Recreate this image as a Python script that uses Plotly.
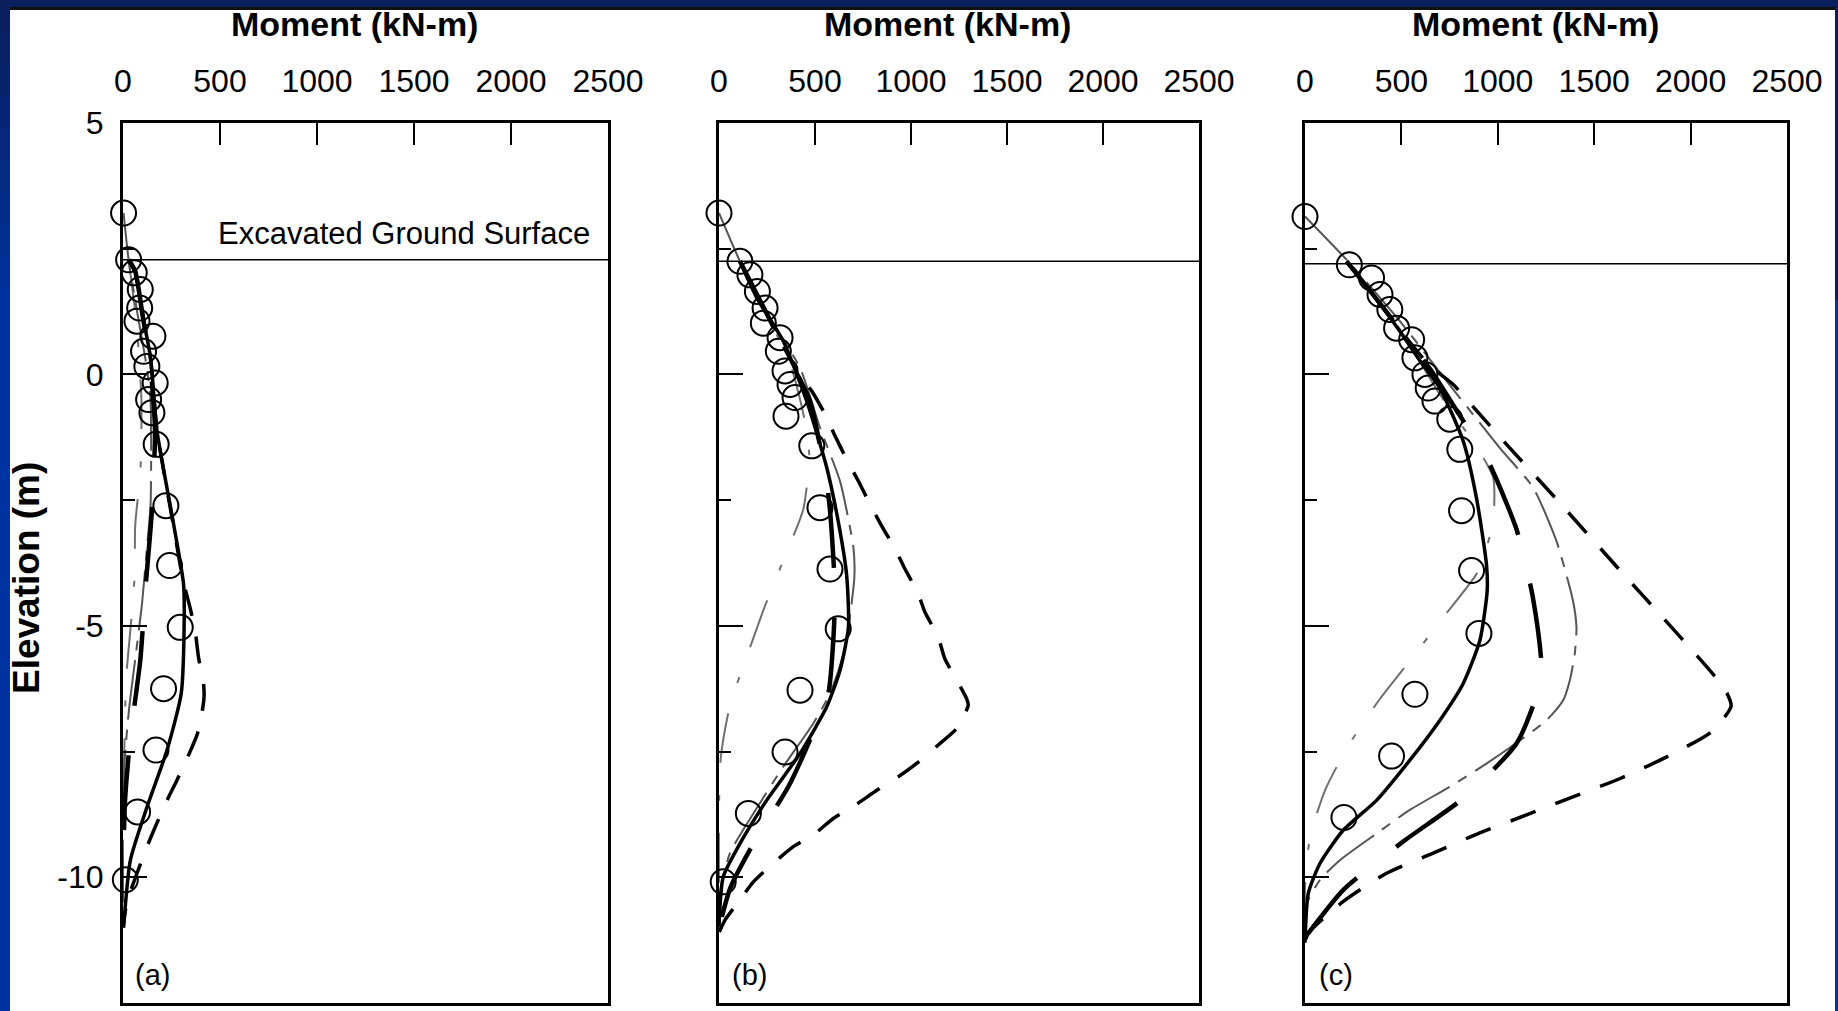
import plotly.graph_objects as go

# ---------------- data (moment kN-m, elevation m) ----------------
PANEL_LABELS = ["(a)", "(b)", "(c)"]
X_TICKS = [0, 500, 1000, 1500, 2000, 2500]
Y_TICKS = [5, 0, -5, -10]
GROUND_ELEV = [2.28, 2.25, 2.2]

# measured (open circles)
A_MEAS_M = [3, 29, 58, 89, 86, 72, 154, 106, 123, 166, 132, 149, 171, 221, 240, 295, 209, 170, 75, 12]
A_MEAS_E = [3.21, 2.28, 2.02, 1.69, 1.32, 1.06, 0.76, 0.46, 0.16, -0.17, -0.50, -0.76, -1.39, -2.61, -3.80, -5.03, -6.25, -7.47, -8.70, -10.05]
B_MEAS_M = [0, 109, 161, 200, 240, 231, 318, 309, 344, 370, 396, 349, 483, 526, 578, 621, 422, 344, 153, 22]
B_MEAS_E = [3.21, 2.25, 1.98, 1.65, 1.32, 1.02, 0.73, 0.46, 0.07, -0.2, -0.46, -0.83, -1.42, -2.65, -3.87, -5.06, -6.28, -7.51, -8.73, -10.09]
C_MEAS_M = [0, 230, 345, 389, 440, 475, 553, 570, 622, 639, 674, 751, 803, 812, 864, 902, 570, 449, 202, -45]
C_MEAS_E = [3.14, 2.18, 1.92, 1.59, 1.29, 0.92, 0.69, 0.33, 0.0, -0.27, -0.53, -0.89, -1.49, -2.71, -3.90, -5.15, -6.36, -7.59, -8.81, -10.1]

# solid thick black
A_SOL_M = [29, 63, 100, 142, 175, 261, 312, 315, 300, 227, 124, 38, 3]
A_SOL_E = [2.28, 2.05, 1.2, 0.33, -1.12, -2.98, -4.17, -5.03, -6.35, -7.47, -8.6, -9.66, -11.0]
B_SOL_M = [109, 200, 335, 457, 561, 630, 665, 674, 630, 561, 422, 248, 109, 22, 0]
B_SOL_E = [2.25, 1.5, 0.66, -0.53, -1.85, -3.11, -4.0, -5.03, -5.89, -6.61, -7.54, -8.47, -9.33, -9.99, -10.98]
C_SOL_M = [216, 350, 492, 600, 699, 820, 889, 941, 945, 907, 820, 699, 544, 371, 199, 78, 17, 0]
C_SOL_E = [2.25, 1.6, 0.86, 0.25, -0.27, -1.32, -2.45, -3.77, -4.3, -5.29, -6.15, -6.88, -7.67, -8.47, -9.06, -9.72, -10.32, -11.3]

# thick long-dash black
A_LD_M = [29, 63, 100, 140, 165, 149, 115, 89, 38, 10, 0]
A_LD_E = [2.28, 2.05, 1.2, 0.2, -1.1, -2.71, -4.3, -5.69, -7.21, -8.5, -10.0]
B_LD_M = [109, 250, 380, 474, 569, 604, 595, 569, 470, 361, 179, 60, 0]
B_LD_E = [2.25, 1.2, 0.2, -0.53, -2.38, -4.33, -5.3, -6.35, -7.3, -8.2, -9.33, -10.2, -11.0]
C_LD_M = [216, 350, 492, 650, 800, 941, 1097, 1183, 1226, 1097, 820, 509, 199, 0]
C_LD_E = [2.25, 1.6, 0.9, 0.1, -0.8, -1.65, -3.08, -4.46, -6.02, -7.34, -8.43, -9.29, -10.25, -11.2]

# short-dash black
A_SD_M = [29, 63, 100, 142, 175, 255, 310, 347, 373, 389, 415, 418, 412, 384, 338, 278, 227, 166, 124, 72, 20, 0]
A_SD_E = [2.28, 2.05, 1.2, 0.3, -1.1, -2.9, -4.1, -4.66, -5.13, -5.62, -6.15, -6.4, -6.61, -7.14, -7.57, -8.07, -8.47, -9.0, -9.39, -9.92, -10.5, -11.0]
B_SD_M = [109, 250, 400, 483, 552, 604, 665, 726, 786, 847, 917, 969, 1038, 1073, 1142, 1177, 1246, 1290, 1298, 1238, 1142, 1038, 934, 822, 708, 595, 500, 387, 283, 179, 109, 31, 0]
B_SD_E = [2.25, 1.2, 0.1, -0.33, -0.79, -1.22, -1.69, -2.12, -2.58, -3.01, -3.47, -3.87, -4.37, -4.73, -5.23, -5.66, -6.13, -6.45, -6.58, -7.04, -7.37, -7.71, -8.0, -8.27, -8.57, -8.83, -9.13, -9.39, -9.72, -10.09, -10.45, -10.85, -11.1]
C_SD_M = [216, 350, 500, 640, 769, 876, 1045, 1304, 1658, 1831, 2176, 2210, 2107, 1874, 1632, 1390, 1149, 898, 665, 423, 199, 17, 0]
C_SD_E = [2.25, 1.6, 0.85, 0.2, -0.2, -0.66, -1.39, -2.48, -4.0, -4.73, -6.25, -6.6, -7.11, -7.61, -8.04, -8.40, -8.76, -9.13, -9.52, -9.92, -10.48, -11.11, -11.3]

# thin grey long-dash-dot (from wall top)
A_GR_M = [3, 29, 75, 120, 142, 145, 142, 120, 97, 65, 30, 10, 0, 0]
A_GR_E = [3.21, 2.28, 1.2, 0.2, -0.5, -1.5, -2.6, -3.6, -4.6, -5.6, -6.7, -7.6, -8.6, -10.5]
B_GR_M = [0, 109, 250, 422, 526, 630, 700, 705, 674, 648, 578, 491, 335, 179, 57, 5, 0]
B_GR_E = [3.21, 2.25, 1.2, 0.13, -1.06, -2.12, -3.44, -4.03, -5.03, -5.56, -6.35, -6.94, -7.80, -8.73, -9.52, -10.3, -11.0]
C_GR_M = [0, 233, 492, 734, 1010, 1183, 1304, 1390, 1408, 1399, 1373, 1339, 1252, 1114, 941, 751, 544, 371, 181, 78, 9, 0]
C_GR_E = [3.14, 2.21, 1.06, -0.13, -1.46, -2.25, -3.31, -4.50, -5.03, -5.56, -6.09, -6.48, -6.88, -7.28, -7.74, -8.20, -8.66, -9.13, -9.66, -10.05, -10.52, -11.0]

# light grey dash-dot
A_DD_M = [29, 70, 95, 90, 63, 60, 40, 15, 10, 0, 0]
A_DD_E = [2.28, 1.0, -0.5, -1.9, -3.0, -4.0, -5.0, -6.1, -7.0, -8.5, -10.5]
B_DD_M = [109, 250, 380, 440, 470, 439, 344, 240, 144, 57, 10, 0, 0]
B_DD_E = [2.25, 1.2, 0.1, -0.8, -1.6, -2.68, -3.61, -4.6, -5.62, -6.58, -7.6, -8.6, -10.5]
C_DD_M = [216, 350, 492, 700, 900, 976, 976, 900, 717, 553, 389, 225, 104, 26, 0, 0]
C_DD_E = [2.25, 1.6, 0.9, -0.4, -1.5, -2.05, -2.91, -3.9, -4.83, -5.65, -6.45, -7.38, -8.27, -9.2, -10.2, -11.0]

PANELS = [
    dict(meas=(A_MEAS_M, A_MEAS_E), sol=(A_SOL_M, A_SOL_E), ld=(A_LD_M, A_LD_E),
         sd=(A_SD_M, A_SD_E), gr=(A_GR_M, A_GR_E), dd=(A_DD_M, A_DD_E)),
    dict(meas=(B_MEAS_M, B_MEAS_E), sol=(B_SOL_M, B_SOL_E), ld=(B_LD_M, B_LD_E),
         sd=(B_SD_M, B_SD_E), gr=(B_GR_M, B_GR_E), dd=(B_DD_M, B_DD_E)),
    dict(meas=(C_MEAS_M, C_MEAS_E), sol=(C_SOL_M, C_SOL_E), ld=(C_LD_M, C_LD_E),
         sd=(C_SD_M, C_SD_E), gr=(C_GR_M, C_GR_E), dd=(C_DD_M, C_DD_E)),
]

# ---------------- layout geometry (pixels of a 1838x1011 page) ----------------
W, H = 1838, 1011
PX_X = [(123, 608), (719, 1199), (1305, 1787)]
PX_TOP, PX_BOT = 123, 1003
FONT = "Liberation Sans, Arial, sans-serif"

def px(x):
    return x / W

def py(y):
    return 1 - y / H

LINE_STYLES = {
    "dd": dict(color="#707070", width=2, dash="50px,32px,6px,32px"),
    "gr": dict(color="#555555", width=2, dash="60px,10px,10px,10px"),
    "ld": dict(color="black", width=4.5, dash="75px,50px"),
    "sd": dict(color="black", width=3.5, dash="27px,21px"),
    "sol": dict(color="black", width=3.5),
}

fig = go.Figure()

for i, p in enumerate(PANELS):
    n = "" if i == 0 else str(i + 1)
    xa, ya = "x" + n, "y" + n
    fig.add_trace(go.Scatter(x=[X_TICKS[0], X_TICKS[-1]], y=[GROUND_ELEV[i]] * 2,
                             mode="lines", line=dict(color="black", width=1.5),
                             xaxis=xa, yaxis=ya, showlegend=False, hoverinfo="skip"))
    for key in ["dd", "gr", "ld", "sd", "sol"]:
        m, e = p[key]
        fig.add_trace(go.Scatter(x=m, y=e, mode="lines",
                                 line=dict(shape="spline", smoothing=0.6, **LINE_STYLES[key]),
                                 xaxis=xa, yaxis=ya, showlegend=False))
    m, e = p["meas"]
    fig.add_trace(go.Scatter(x=m, y=e, mode="markers", cliponaxis=False,
                             marker=dict(symbol="circle-open", size=25, color="black",
                                         line=dict(width=2, color="black")),
                             xaxis=xa, yaxis=ya, showlegend=False))

layout = dict(
    width=W, height=H,
    autosize=False,
    margin=dict(l=0, r=0, t=0, b=0, pad=0, autoexpand=False),
    paper_bgcolor="#0b1f5e",
    plot_bgcolor="rgba(0,0,0,0)",
    showlegend=False,
)

for i in range(3):
    n = "" if i == 0 else str(i + 1)
    x0, x1 = PX_X[i]
    layout["xaxis" + n] = dict(
        domain=[px(x0), px(x1)], range=[X_TICKS[0], X_TICKS[-1]], side="top",
        anchor="y" + n, tickvals=X_TICKS, ticktext=[str(v) for v in X_TICKS],
        ticks="inside", ticklen=22, tickwidth=2, tickcolor="black",
        showline=True, linewidth=3, linecolor="black", mirror=True,
        showgrid=False, zeroline=False, ticklabelstandoff=15, automargin=False,
        tickfont=dict(family=FONT, size=32, color="black"),
    )
    layout["yaxis" + n] = dict(
        domain=[py(PX_BOT), py(PX_TOP)], range=[-12.5, 5], anchor="x" + n,
        tickvals=Y_TICKS, ticktext=[str(v) for v in Y_TICKS],
        ticks="inside", ticklen=24, tickwidth=2, tickcolor="black",
        minor=dict(dtick=2.5, tick0=0, ticks="inside", ticklen=12, tickwidth=2, tickcolor="black"),
        showticklabels=(i == 0), ticklabelstandoff=10, automargin=False,
        showline=True, linewidth=3, linecolor="black", mirror=True,
        showgrid=False, zeroline=False,
        tickfont=dict(family=FONT, size=32, color="black"),
    )

# background: blue frame with gradient on the left strip, white page
shapes = []
steps = 10
c_top = (11, 31, 94)
c_bot = (0, 51, 160)
grad_end = 320
for k in range(steps):
    t = k / (steps - 1)
    col = tuple(int(c_top[j] + (c_bot[j] - c_top[j]) * t) for j in range(3))
    shapes.append(dict(type="rect", xref="paper", yref="paper", layer="below",
                       x0=0, x1=px(10), y0=py(grad_end * (k + 1) / steps), y1=py(grad_end * k / steps),
                       fillcolor="rgb(%d,%d,%d)" % col, line=dict(width=0)))
shapes.append(dict(type="rect", xref="paper", yref="paper", layer="below",
                   x0=0, x1=px(10), y0=0, y1=py(grad_end),
                   fillcolor="rgb(%d,%d,%d)" % c_bot, line=dict(width=0)))
shapes.append(dict(type="rect", xref="paper", yref="paper", layer="below",
                   x0=px(1835), x1=1, y0=0, y1=py(300),
                   fillcolor="rgb(%d,%d,%d)" % c_bot, line=dict(width=0)))
shapes.append(dict(type="rect", xref="paper", yref="paper", layer="below",
                   x0=px(10), x1=px(1835), y0=py(10), y1=py(7),
                   fillcolor="#111111", line=dict(width=0)))
shapes.append(dict(type="rect", xref="paper", yref="paper", layer="below",
                   x0=px(10), x1=px(1835), y0=0, y1=py(10),
                   fillcolor="white", line=dict(width=0)))
layout["shapes"] = shapes

ann = []
title_cx = [354, 948, 1535]
label_cx = [152, 749, 1336]
for i in range(3):
    ann.append(dict(text="<b>Moment (kN-m)</b>", x=px(title_cx[i]), y=py(24), xref="paper", yref="paper",
                    showarrow=False, xanchor="center", yanchor="middle",
                    font=dict(family=FONT, size=34, color="black")))
    ann.append(dict(text=PANEL_LABELS[i], x=px(label_cx[i]), y=py(975), xref="paper", yref="paper",
                    showarrow=False, xanchor="center", yanchor="middle",
                    font=dict(family=FONT, size=29, color="black")))
ann.append(dict(text="Excavated Ground Surface", x=px(404), y=py(233), xref="paper", yref="paper",
                showarrow=False, xanchor="center", yanchor="middle",
                font=dict(family=FONT, size=31, color="black")))
ann.append(dict(text="<b>Elevation (m)</b>", x=px(26), y=py(578), xref="paper", yref="paper",
                showarrow=False, xanchor="center", yanchor="middle", textangle=-90,
                font=dict(family=FONT, size=37, color="black")))
layout["annotations"] = ann

fig.update_layout(**layout)
fig.write_html("out.html",
               config={"displayModeBar": False},
               post_script="document.body.style.margin='0';document.body.style.overflow='hidden';")
